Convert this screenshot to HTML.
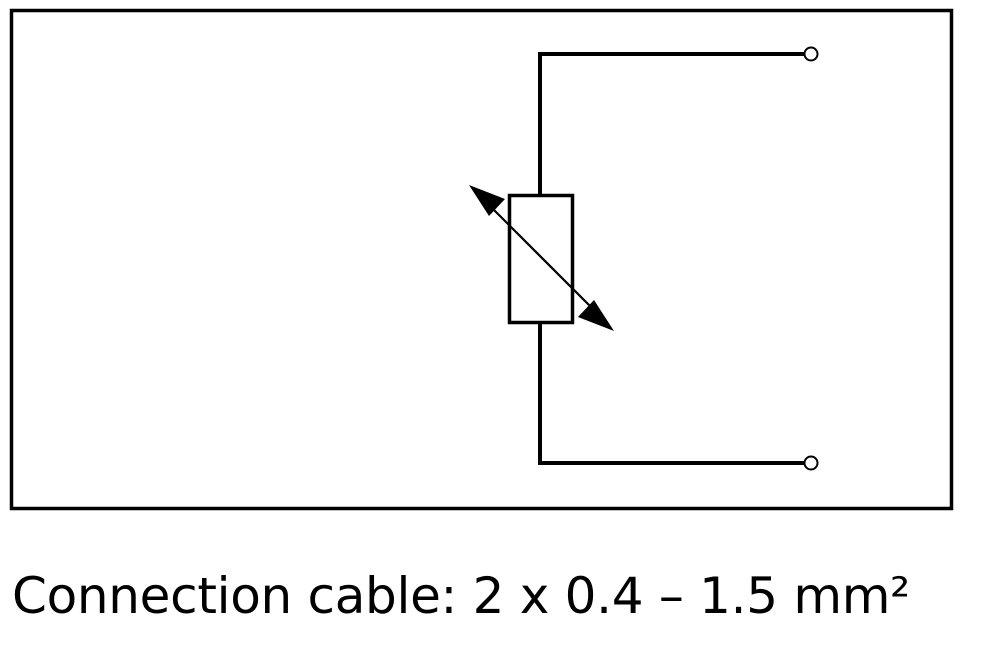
<!DOCTYPE html>
<html><head><style>
html,body{margin:0;padding:0;background:#fff;width:981px;height:645px;overflow:hidden}
svg{position:absolute;left:0;top:0}
.t{position:absolute;left:12px;top:567px;font-family:"DejaVu Sans","Liberation Sans",sans-serif;font-size:50px;color:#000;white-space:nowrap;letter-spacing:-0.3px}
</style></head><body>
<svg width="981" height="645" viewBox="0 0 981 645">
<rect x="11.5" y="10.5" width="940" height="498" fill="none" stroke="#000" stroke-width="3.5"/>
<polyline points="805,54 540,54 540,195" fill="none" stroke="#000" stroke-width="4"/>
<polyline points="540,323 540,463 805,463" fill="none" stroke="#000" stroke-width="4"/>
<circle cx="811" cy="54" r="6.5" fill="#fff" stroke="#000" stroke-width="2"/>
<circle cx="811" cy="463" r="6.5" fill="#fff" stroke="#000" stroke-width="2"/>
<rect x="509.5" y="195.5" width="63" height="127" fill="#fff" stroke="#000" stroke-width="3.5"/>
<line x1="485" y1="201" x2="598" y2="314" stroke="#000" stroke-width="2.2"/>
<polygon points="469,185 505,199 489,216" fill="#000"/>
<polygon points="614,331 578,317 594,300" fill="#000"/>
</svg>
<div class="t">Connection cable: 2 x 0.4 – 1.5 mm²</div>
</body></html>
